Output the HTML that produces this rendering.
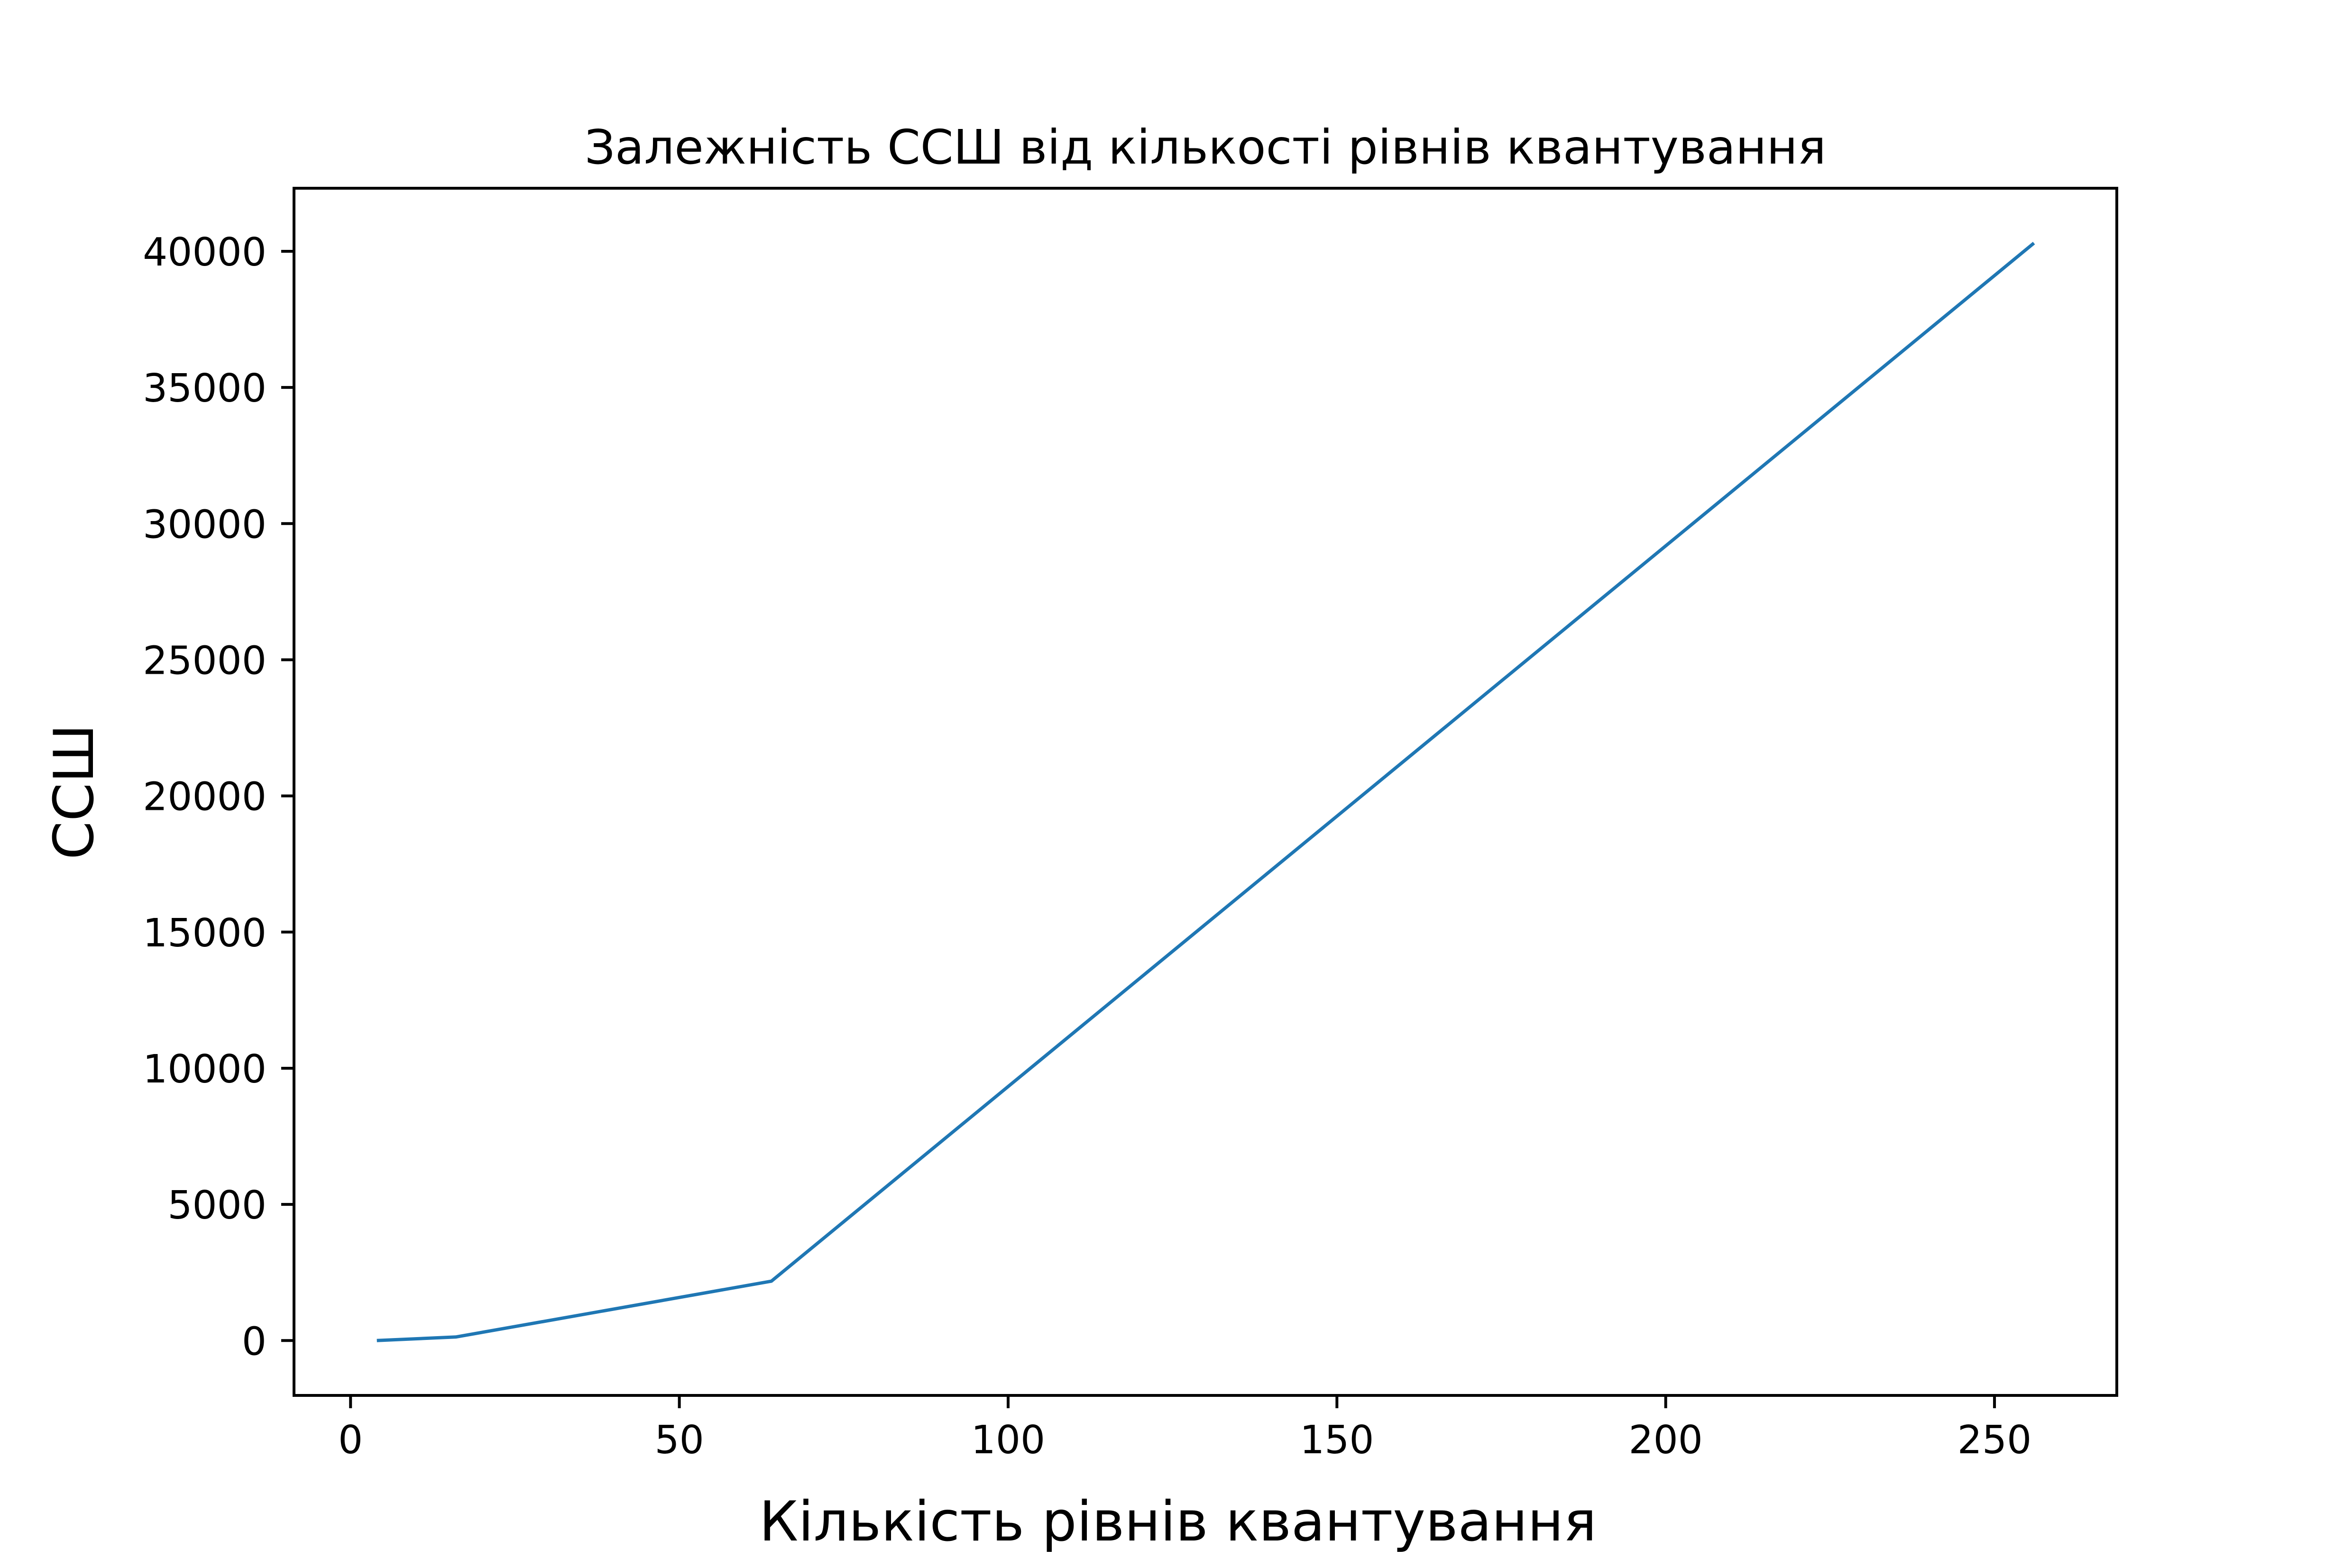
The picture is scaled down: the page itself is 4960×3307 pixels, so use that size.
<!DOCTYPE html>
<html><head><meta charset="utf-8"><style>
html,body{margin:0;padding:0;background:#fff}
svg{display:block}
text{font-family:"DejaVu Sans","Liberation Sans",sans-serif;fill:#000}
</style></head><body>
<svg id="chart" width="4960" height="3307" viewBox="0 0 4960 3307" xmlns="http://www.w3.org/2000/svg">
<rect width="4960" height="3307" fill="#fff"/>
<text x="2542" y="345" font-size="100" text-anchor="middle">Залежність ССШ від кількості рівнів квантування</text>
<text x="2484" y="3249" font-size="116" text-anchor="middle">Кількість рівнів квантування</text>
<text transform="translate(196,1670) rotate(-90)" font-size="116" text-anchor="middle">ССШ</text>
<g id="ticks"></g>
<polyline id="series" fill="none" stroke="#1f77b4" stroke-width="7" stroke-linejoin="round"/>
<rect x="620" y="397" width="3844" height="2546" fill="none" stroke="#000" stroke-width="6"/>
</svg>
<script>
const levels = [4, 16, 64, 256];
const snrValues = [0, 130, 2180, 40300];
const xTickValues = [0, 50, 100, 150, 200, 250];
const yTickValues = [0, 5000, 10000, 15000, 20000, 25000, 30000, 35000, 40000];

const L = 620, R = 4464, T = 397, B = 2943;
const xmin = Math.min(...levels), xmax = Math.max(...levels);
const ymin = Math.min(...snrValues), ymax = Math.max(...snrValues);
const x0 = xmin - (xmax - xmin) * 0.05, x1 = xmax + (xmax - xmin) * 0.05;
const y0 = ymin - (ymax - ymin) * 0.05, y1 = ymax + (ymax - ymin) * 0.05;
function sx(v){ return L + (v - x0) / (x1 - x0) * (R - L); }
function sy(v){ return B - (v - y0) / (y1 - y0) * (B - T); }

const NS = 'http://www.w3.org/2000/svg';
const g = document.getElementById('ticks');
xTickValues.forEach(v => {
  const x = sx(v);
  const ln = document.createElementNS(NS, 'line');
  ln.setAttribute('x1', x); ln.setAttribute('x2', x);
  ln.setAttribute('y1', B); ln.setAttribute('y2', B + 27);
  ln.setAttribute('stroke', '#000'); ln.setAttribute('stroke-width', '6');
  
  
  g.appendChild(ln);
  const t = document.createElementNS(NS, 'text');
  t.setAttribute('x', x); t.setAttribute('y', B + 122);
  t.setAttribute('font-size', '82'); t.setAttribute('text-anchor', 'middle');
  t.textContent = v;
  
  
  g.appendChild(t);
});
yTickValues.forEach(v => {
  const y = sy(v);
  const ln = document.createElementNS(NS, 'line');
  ln.setAttribute('x1', L - 27); ln.setAttribute('x2', L);
  ln.setAttribute('y1', y); ln.setAttribute('y2', y);
  ln.setAttribute('stroke', '#000'); ln.setAttribute('stroke-width', '6');
  
  
  g.appendChild(ln);
  const t = document.createElementNS(NS, 'text');
  t.setAttribute('x', L - 58); t.setAttribute('y', y + 30);
  t.setAttribute('font-size', '82'); t.setAttribute('text-anchor', 'end');
  t.textContent = v;
  
  
  g.appendChild(t);
});
document.getElementById('series').setAttribute('points',
  levels.map((v, i) => sx(v) + ',' + sy(snrValues[i])).join(' '));
</script>
</body></html>
